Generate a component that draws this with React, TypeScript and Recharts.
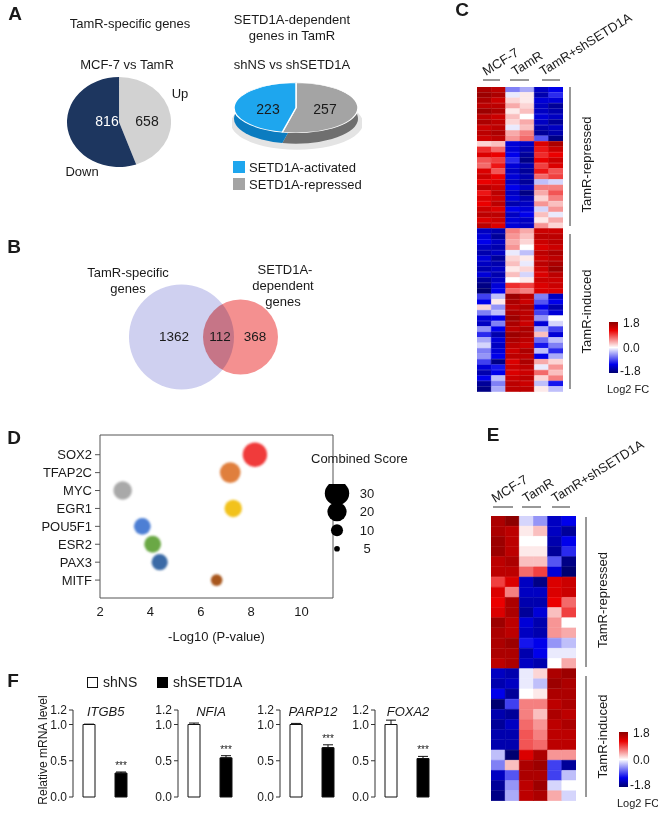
import React from 'react';
import {
  PieChart, Pie, Cell, ScatterChart, Scatter, XAxis, YAxis, ZAxis,
  ReferenceArea, BarChart, Bar, ErrorBar, LabelList,
} from 'recharts';

const FONT = '"Liberation Sans", Arial, sans-serif';
const INK = '#1a1a1a';

// ---- A: pies
const tamrLabels = ['Up', 'Down'];
const tamrCounts = [658, 816];
const tamrColors = ['#d2d2d2', '#1d365f'];

const setd1aLabels = ['SETD1A-repressed', 'SETD1A-activated'];
const setd1aCounts = [257, 223];
const setd1aTop = ['#a4a4a4', '#1ea6ee'];
const setd1aSide = ['#6f6f6f', '#0b7cc0'];

// ---- B: venn
const vennNames = ['TamR-specific genes', 'SETD1A-dependent genes'];
const vennOnly = [1362, 368];
const vennShared = 112;

// ---- D: enrichment bubbles
const tfNames = ['SOX2', 'TFAP2C', 'MYC', 'EGR1', 'POU5F1', 'ESR2', 'PAX3', 'MITF'];
const tfLogP = [8.15, 7.17, 2.9, 7.29, 3.68, 4.09, 4.37, 6.63];
const tfScore = [32, 24, 20, 18, 17, 17, 16, 10];
const tfColors = ['#f03a3a', '#e07f3e', '#a9a9a9', '#f2c21e', '#4d7fd4', '#6aa844', '#3b6aa6', '#a8561e'];
const scoreLegend = [30, 20, 10, 5];
const pTicks = [2, 4, 6, 8, 10];

// ---- F: qPCR
const genes = ['ITGB5', 'NFIA', 'PARP12', 'FOXA2'];
const shNSMean = [1.0, 1.0, 1.0, 1.0];
const shNSErr = [0.005, 0.02, 0.015, 0.06];
const shSETMean = [0.33, 0.54, 0.68, 0.53];
const shSETErr = [0.015, 0.03, 0.04, 0.03];
const mrnaTicks = [0, 0.5, 1.0, 1.2];

// ---- C / E heatmaps, columns: MCF-7 x2, TamR x2, TamR+shSETD1A x2 (log2 FC)
const cRepA = [
  [1.6, 1.5, -0.6, -0.4, -1.4, -1.2],
  [1.7, 1.6, -0.1, 0.1, -1.5, -1.0],
  [1.6, 1.4, 0.2, 0.1, -1.3, -1.3],
  [1.5, 1.5, 0.4, 0.2, -1.4, -1.6],
  [1.7, 1.6, 0.1, 0.3, -1.4, -1.5],
  [1.5, 1.4, 0.3, 0.0, -1.3, -1.4],
  [1.6, 1.5, 0.2, 0.4, -1.4, -1.6],
  [1.4, 1.5, -0.1, 0.3, -1.5, -1.4],
  [1.5, 1.6, 0.4, 0.6, -1.6, -1.5],
  [1.4, 1.5, 0.5, 0.7, -0.8, -1.7],
];
const cRepB = [
  [0.2, 0.3, -1.3, -1.4, 1.3, 1.6],
  [1.0, 0.7, -1.3, -1.5, 1.1, 1.4],
  [1.3, 1.2, -1.2, -1.6, 1.0, 1.2],
  [0.8, 0.9, -1.0, -1.7, 1.2, 1.4],
  [0.7, 1.1, -1.3, -1.5, 0.9, 1.3],
  [1.3, 0.8, -1.4, -1.6, 1.1, 0.8],
  [1.4, 1.2, -1.3, -1.5, 0.7, 0.9],
  [1.2, 1.3, -1.4, -1.6, -0.3, -0.2],
  [1.5, 1.4, -1.2, -1.4, 0.6, 0.6],
  [1.1, 1.5, -1.4, -1.7, 0.4, 0.8],
  [1.3, 1.4, -1.3, -1.5, 0.2, 0.6],
  [1.2, 1.5, -1.5, -1.4, 0.5, 0.3],
  [1.4, 1.3, -1.2, -1.3, -0.2, 0.5],
  [1.5, 1.5, -1.4, -1.2, 0.3, -0.1],
  [1.3, 1.4, -1.3, -1.4, 0.1, 0.4],
  [1.5, 1.3, -1.3, -1.4, 0.5, 0.2],
];
const cIndA = [
  [-1.4, -1.5, 0.6, 0.4, 1.4, 1.4],
  [-1.3, -1.6, 0.5, 0.3, 1.5, 1.5],
  [-1.2, -1.4, 0.4, 0.2, 1.4, 1.5],
  [-1.4, -1.5, 0.5, 0.0, 1.3, 1.4],
  [-1.5, -1.4, -0.1, -0.3, 1.5, 1.6],
  [-1.3, -1.6, 0.2, 0.1, 1.4, 1.5],
  [-1.4, -1.5, 0.3, -0.1, 1.5, 1.6],
  [-1.5, -1.4, 0.1, 0.2, 1.4, 1.7],
  [-1.3, -1.5, 0.3, -0.2, 1.3, 1.5],
  [-1.6, -1.4, 0.0, 0.1, 1.4, 1.4],
  [-1.7, -1.3, 1.0, 0.9, 1.3, 1.4],
  [-1.8, -1.2, 0.7, 0.6, 1.3, 1.3],
];
const cIndB = [
  [-0.9, -0.3, 1.7, 1.5, -0.6, -1.4],
  [-1.2, 0.1, 1.6, 1.4, -0.8, -1.2],
  [0.2, -0.5, 1.5, 1.6, -1.2, -1.5],
  [-0.6, -0.3, 1.6, 1.5, -0.9, -1.3],
  [-1.3, -1.2, 1.7, 1.5, -0.5, 0.0],
  [-1.4, -0.6, 1.6, 1.4, -1.3, -0.2],
  [-0.5, -1.2, 1.5, 1.6, -0.4, -0.9],
  [-1.0, -1.5, 1.7, 1.6, 0.3, -1.3],
  [-0.4, -1.3, 1.6, 1.5, -0.7, -0.3],
  [-0.2, -1.4, 1.5, 1.4, -1.1, -0.6],
  [-0.6, -1.3, 1.4, 1.6, -0.3, -1.0],
  [-0.5, -1.2, 1.5, 1.5, -1.2, -0.4],
  [-0.9, -1.7, 1.3, 1.6, 0.4, 0.2],
  [-1.3, -1.1, 1.4, 1.5, -0.1, 0.5],
  [-1.5, -1.2, 1.3, 1.4, 0.7, 0.3],
  [-1.2, -0.3, 1.4, 1.5, 0.2, 0.6],
  [-1.6, -0.6, 1.5, 1.4, -0.3, -1.1],
  [-1.7, -0.4, 1.5, 1.5, 0.1, -0.3],
];
const eRep = [
  [1.6, 1.8, -0.2, -0.5, -1.4, -1.2],
  [1.6, 1.5, 0.1, 0.3, -1.4, -1.6],
  [1.7, 1.5, 0.0, 0.0, -1.5, -1.2],
  [1.7, 1.5, 0.1, 0.1, -1.6, -1.0],
  [1.5, 1.6, 0.3, 0.3, -0.8, -1.7],
  [1.5, 1.5, 0.7, 0.9, -1.3, -1.8],
  [0.9, 1.3, -1.4, -1.7, 1.3, 1.4],
  [1.3, 0.6, -1.4, -1.4, 1.3, 1.4],
  [1.2, 1.6, -1.5, -1.5, 1.2, 0.7],
  [1.3, 1.6, -1.6, -1.3, 0.3, 0.9],
  [1.7, 1.5, -1.3, -1.5, 0.5, 0.0],
  [1.6, 1.5, -1.4, -1.5, 0.5, 0.4],
  [1.6, 1.7, -1.1, -1.2, -0.5, -0.3],
  [1.6, 1.6, -1.5, -1.2, -0.1, -0.1],
  [1.5, 1.6, -1.4, -1.5, 0.0, 0.4],
];
const eInd = [
  [-1.4, -1.5, -0.1, 0.2, 1.6, 1.7],
  [-1.5, -1.4, -0.1, -0.3, 1.7, 1.6],
  [-1.2, -1.6, 0.0, 0.1, 1.6, 1.6],
  [-1.8, -0.9, 0.6, 0.6, 1.5, 1.6],
  [-1.5, -1.6, 0.6, 0.3, 1.6, 1.5],
  [-1.6, -1.4, 0.7, 0.5, 1.5, 1.6],
  [-1.5, -1.5, 0.8, 0.6, 1.5, 1.5],
  [-1.5, -1.5, 0.8, 0.7, 1.5, 1.5],
  [-0.3, -1.8, 1.3, 1.6, 0.5, 0.5],
  [-0.6, 0.3, 1.6, 1.7, -0.9, -1.6],
  [-1.4, -0.8, 1.6, 1.6, -0.9, -0.3],
  [-1.6, -0.5, 1.5, 1.7, -0.2, 0.0],
  [-1.7, -0.4, 1.5, 1.6, 0.4, -0.2],
];
const heatGroups = ['MCF-7', 'TamR', 'TamR+shSETD1A'];

const heatStops = [
  { v: -1.8, c: [0, 0, 112] },
  { v: -1.2, c: [0, 0, 235] },
  { v: 0, c: [255, 255, 255] },
  { v: 1.2, c: [235, 0, 0] },
  { v: 1.8, c: [140, 0, 0] },
];

function heatColor(v: number) {
  const x = Math.max(-1.8, Math.min(1.8, v));
  for (let i = 0; i < heatStops.length - 1; i++) {
    const a = heatStops[i];
    const b = heatStops[i + 1];
    if (x <= b.v) {
      const t = (x - a.v) / (b.v - a.v);
      const c = a.c.map((ch, k) => Math.round(ch + (b.c[k] - ch) * t));
      return `rgb(${c.join(',')})`;
    }
  }
  return 'rgb(140,0,0)';
}

const tickStyle = { fontSize: 13, fill: INK, fontFamily: FONT };
const zero = { top: 0, right: 0, bottom: 0, left: 0 };

function PanelA() {
  const tamr = tamrLabels.map((name, i) => ({ name, value: tamrCounts[i] }));
  const setd = setd1aLabels.map((name, i) => ({ name, value: setd1aCounts[i] }));
  const total = [{ name: 'all', value: setd1aCounts[0] + setd1aCounts[1] }];
  const sy = 0.403;
  return (
    <>
      <div style={{ position: 'absolute', left: 67, top: 77, transform: 'scaleX(1.156)', transformOrigin: '0 0' }}>
        <PieChart width={90} height={90} margin={zero}>
          <Pie data={tamr} dataKey="value" cx={45} cy={45} outerRadius={45} startAngle={90} endAngle={-270}
            stroke="none" isAnimationActive={false}>
            {tamr.map((d, i) => <Cell key={d.name} fill={tamrColors[i]} />)}
          </Pie>
        </PieChart>
      </div>
      <div style={{ position: 'absolute', left: 232, top: 82.2, transform: `scaleY(${sy})`, transformOrigin: '0 0' }}>
        <PieChart width={130} height={175} margin={zero}>
          <Pie data={total} dataKey="value" cx={65} cy={102} outerRadius={66} stroke="none" fill="#e4e4e4"
            isAnimationActive={false} />
          <Pie data={setd} dataKey="value" cx={64} cy={91} outerRadius={62} startAngle={90} endAngle={-270}
            stroke="none" isAnimationActive={false}>
            {setd.map((d, i) => <Cell key={d.name} fill={setd1aSide[i]} />)}
          </Pie>
          <Pie data={setd} dataKey="value" cx={64} cy={64} outerRadius={62} startAngle={90} endAngle={-270}
            stroke="#fff" strokeWidth={1.5} isAnimationActive={false}>
            {setd.map((d, i) => <Cell key={d.name} fill={setd1aTop[i]} />)}
          </Pie>
        </PieChart>
      </div>
    </>
  );
}

function vennShape(props: any) {
  const r = props.width ? props.width / 2 : Math.sqrt((props.size || 64) / Math.PI);
  const first = props.payload.idx === 0;
  return (
    <circle cx={props.cx} cy={props.cy} r={r} fill={first ? '#cfd0f0' : '#f27878'}
      fillOpacity={first ? 1 : 0.82} style={first ? undefined : { mixBlendMode: 'multiply' }} />
  );
}

function PanelB() {
  const data = vennNames.map((name, i) => ({ name, idx: i, x: i, y: 0, z: vennOnly[i] + vennShared }));
  return (
    <div style={{ position: 'absolute', left: 100, top: 267 }}>
      <ScatterChart width={230} height={140} margin={zero}>
        <XAxis type="number" dataKey="x" domain={[-1.381, 2.517]} hide />
        <YAxis type="number" dataKey="y" domain={[-1, 1]} hide />
        <ZAxis type="number" dataKey="z" domain={[480, 1474]} range={[4418, 8659]} />
        <Scatter data={data} isAnimationActive={false} shape={vennShape} />
      </ScatterChart>
    </div>
  );
}

function bubbleShape(props: any) {
  const r = props.width ? props.width / 2 : Math.sqrt((props.size || 64) / Math.PI);
  return <circle cx={props.cx} cy={props.cy} r={r} fill={props.payload.color} filter="url(#soft)" />;
}

function dotShape(props: any) {
  const r = props.width ? props.width / 2 : Math.sqrt((props.size || 64) / Math.PI);
  return <circle cx={props.cx} cy={props.cy} r={r} fill="#000" />;
}

function PanelD() {
  const data = tfNames.map((name, i) => ({
    name, x: tfLogP[i], y: tfNames.length - i, z: tfScore[i], color: tfColors[i],
  }));
  const legend = scoreLegend.map((s, i) => ({ x: 0, y: i, z: s }));
  const yTicks = tfNames.map((_, i) => i + 1);
  return (
    <>
      <div style={{ position: 'absolute', left: 30, top: 425 }}>
        <ScatterChart width={310} height={224} margin={{ top: 10, right: 7, bottom: 0, left: 0 }}>
          <XAxis type="number" dataKey="x" domain={[2, 11.25]} ticks={pTicks} allowDataOverflow height={51}
            tickLine={false} axisLine={false} tickSize={6} tickMargin={3} tick={tickStyle}
            label={{ value: '-Log10 (P-value)', position: 'insideBottom', offset: 8, fontSize: 13, fill: INK }} />
          <YAxis type="number" dataKey="y" domain={[0, 9.1]} ticks={yTicks} width={70} interval={0}
            tickFormatter={(v: number) => tfNames[tfNames.length - v]} axisLine={false}
            tickLine={{ stroke: '#555' }} tickSize={5} tickMargin={3} tick={tickStyle} />
          <ZAxis type="number" dataKey="z" domain={[4, 30]} range={[8, 467]} />
          <ReferenceArea x1={2} x2={11.25} y1={0} y2={9.1} fill="none" stroke="#555" strokeWidth={1}
            ifOverflow="visible" />
          <Scatter data={data} isAnimationActive={false} shape={bubbleShape} />
        </ScatterChart>
      </div>
      <div style={{ position: 'absolute', left: 317, top: 484 }}>
        <ScatterChart width={62} height={74} margin={zero}>
          <XAxis type="number" dataKey="x" domain={[-1, 1]} hide />
          <YAxis type="number" dataKey="y" domain={[-0.5, 3.5]} reversed orientation="right" width={22}
            ticks={[0, 1, 2, 3]} interval={0} tickFormatter={(v: number) => String(scoreLegend[v])}
            axisLine={false} tickLine={false} tickSize={0} tickMargin={10}
            tick={{ ...tickStyle, textAnchor: 'middle' }} />
          <ZAxis type="number" dataKey="z" domain={[4, 30]} range={[8, 467]} />
          <Scatter data={legend} isAnimationActive={false} shape={dotShape} />
        </ScatterChart>
      </div>
    </>
  );
}

const axisXs = [72.7, 178, 280, 375];

function GeneBars({ i }: { i: number }) {
  const data = [
    { group: 'shNS', value: shNSMean[i], err: [0, shNSErr[i]], sig: '' },
    { group: 'shSETD1A', value: shSETMean[i], err: [0, shSETErr[i]], sig: '***' },
  ];
  return (
    <div style={{ position: 'absolute', left: axisXs[i] - 35, top: 700 }}>
      <BarChart width={101} height={108} data={data} margin={{ top: 10, right: 2, bottom: 11, left: 0 }} barSize={12}>
        <XAxis dataKey="group" hide />
        <YAxis width={35} domain={[0, 1.2]} ticks={mrnaTicks} interval={0}
          tickFormatter={(v: number) => v.toFixed(1)} tickSize={4} tickMargin={2}
          axisLine={{ stroke: '#333' }} tickLine={{ stroke: '#333' }} tick={{ ...tickStyle, fontSize: 12 }} />
        <Bar dataKey="value" isAnimationActive={false} stroke="#111" strokeWidth={1}>
          {data.map((d) => <Cell key={d.group} fill={d.group === 'shNS' ? '#fff' : '#000'} />)}
          <ErrorBar dataKey="err" width={5} stroke="#111" strokeWidth={1} direction="y" />
          <LabelList dataKey="sig" position="top" offset={3 + shSETErr[i] * 72} fontSize={10} fill={INK} />
        </Bar>
      </BarChart>
    </div>
  );
}

function Heatmap({ rows, left, top, width, height }: { rows: number[][]; left: number; top: number; width: number; height: number }) {
  const data = rows.map((v, i) => ({ id: i, v, c0: 1, c1: 1, c2: 1, c3: 1, c4: 1, c5: 1 }));
  return (
    <div style={{ position: 'absolute', left, top }}>
      <BarChart width={width} height={height} data={data} layout="vertical" margin={zero}
        barCategoryGap={0} barGap={0}>
        <XAxis type="number" domain={[0, 6]} hide />
        <YAxis type="category" dataKey="id" hide />
        {[0, 1, 2, 3, 4, 5].map((j) => (
          <Bar key={j} dataKey={`c${j}`} stackId="h" isAnimationActive={false}>
            {data.map((d) => {
              const col = heatColor(d.v[j]);
              return <Cell key={d.id} fill={col} stroke={col} strokeWidth={0.6} />;
            })}
          </Bar>
        ))}
      </BarChart>
    </div>
  );
}

function T({ x, y, children, size = 13, anchor = 'start', weight, italic, fill = INK, rotate, base = 'central' }: any) {
  return (
    <text x={x} y={y} fontSize={size} textAnchor={anchor} dominantBaseline={base} fontWeight={weight}
      fontStyle={italic ? 'italic' : undefined} fill={fill}
      transform={rotate !== undefined ? `rotate(${rotate} ${x} ${y})` : undefined}>
      {children}
    </text>
  );
}

function HeatDecor({ labelStarts, labelY, lines, lineY, rightX, repSpan, indSpan, bar }: any) {
  return (
    <g>
      {heatGroups.map((g, i) => (
        <T key={g} x={labelStarts[i]} y={labelY} base="alphabetic" rotate={-32}>{g}</T>
      ))}
      {lines.map((l: number[], i: number) => (
        <line key={i} x1={l[0]} x2={l[1]} y1={lineY} y2={lineY} stroke="#333" strokeWidth={1} />
      ))}
      <line x1={rightX} x2={rightX} y1={repSpan[0]} y2={repSpan[1]} stroke="#333" strokeWidth={1} />
      <line x1={rightX} x2={rightX} y1={indSpan[0]} y2={indSpan[1]} stroke="#333" strokeWidth={1} />
      <T x={rightX + 16} y={(repSpan[0] + repSpan[1]) / 2 + 8} anchor="middle" rotate={-90}>TamR-repressed</T>
      <T x={rightX + 16} y={(indSpan[0] + indSpan[1]) / 2} anchor="middle" rotate={-90}>TamR-induced</T>
      <rect x={bar.x} y={bar.y} width={9} height={bar.h} fill="url(#heatGrad)" />
      <T x={bar.x + 14} y={bar.y + 1} size={12}>1.8</T>
      <T x={bar.x + 14} y={bar.y + bar.h / 2} size={12}>0.0</T>
      <T x={bar.x + 11} y={bar.y + bar.h - 2} size={12}>-1.8</T>
      <T x={bar.x - 2} y={bar.y + bar.h + 16} size={11}>Log2 FC</T>
    </g>
  );
}

function Overlay() {
  return (
    <svg width={658} height={815} style={{ position: 'absolute', left: 0, top: 0, pointerEvents: 'none', fontFamily: FONT }}>
      <defs>
        <linearGradient id="heatGrad" x1="0" y1="0" x2="0" y2="1">
          {heatStops.slice().reverse().map((s) => (
            <stop key={s.v} offset={(1.8 - s.v) / 3.6} stopColor={`rgb(${s.c.join(',')})`} />
          ))}
        </linearGradient>
      </defs>
      {/* panel letters */}
      <T x={15} y={13} size={19} weight="bold" anchor="middle">A</T>
      <T x={14} y={246} size={19} weight="bold" anchor="middle">B</T>
      <T x={462} y={9} size={19} weight="bold" anchor="middle">C</T>
      <T x={14} y={437} size={19} weight="bold" anchor="middle">D</T>
      <T x={493} y={434} size={19} weight="bold" anchor="middle">E</T>
      <T x={13} y={680} size={19} weight="bold" anchor="middle">F</T>

      {/* A */}
      <T x={130} y={23} anchor="middle">TamR-specific genes</T>
      <T x={127} y={64} anchor="middle">MCF-7 vs TamR</T>
      <T x={292} y={19} anchor="middle">SETD1A-dependent</T>
      <T x={292} y={35} anchor="middle">genes in TamR</T>
      <T x={292} y={64} anchor="middle">shNS vs shSETD1A</T>
      <T x={180} y={93} anchor="middle">{tamrLabels[0]}</T>
      <T x={82} y={171} anchor="middle">{tamrLabels[1]}</T>
      <T x={107} y={121} size={14} anchor="middle" fill="#fff">{tamrCounts[1]}</T>
      <T x={147} y={121} size={14} anchor="middle">{tamrCounts[0]}</T>
      <T x={268} y={109} size={14} anchor="middle">{setd1aCounts[1]}</T>
      <T x={325} y={109} size={14} anchor="middle">{setd1aCounts[0]}</T>
      <rect x={233} y={161} width={12} height={12} fill={setd1aTop[1]} />
      <T x={249} y={167}>{setd1aLabels[1]}</T>
      <rect x={233} y={178} width={12} height={12} fill={setd1aTop[0]} />
      <T x={249} y={184}>{setd1aLabels[0]}</T>

      {/* B */}
      <T x={128} y={272} anchor="middle">TamR-specific</T>
      <T x={128} y={288} anchor="middle">genes</T>
      <T x={285} y={269} anchor="middle">SETD1A-</T>
      <T x={283} y={285} anchor="middle">dependent</T>
      <T x={283} y={301} anchor="middle">genes</T>
      <T x={174} y={336} size={13.5} anchor="middle">{vennOnly[0]}</T>
      <T x={220} y={336} size={13.5} anchor="middle">{vennShared}</T>
      <T x={255} y={336} size={13.5} anchor="middle">{vennOnly[1]}</T>

      {/* D */}
      <T x={311} y={458}>Combined Score</T>

      {/* F */}
      <rect x={87.5} y={677.5} width={10} height={10} fill="#fff" stroke="#111" />
      <T x={103} y={682} size={14}>shNS</T>
      <rect x={157} y={677} width={11} height={11} fill="#000" />
      <T x={173} y={682} size={14}>shSETD1A</T>
      <T x={43} y={750} size={12} anchor="middle" rotate={-90}>Relative mRNA level</T>
      {genes.map((g, i) => (
        <T key={g} x={axisXs[i] + 33} y={711} italic anchor="middle">{g}</T>
      ))}

      {/* C */}
      <HeatDecor labelStarts={[486, 515, 543]} labelY={76} lines={[[483, 500], [510, 529], [542, 560]]} lineY={80}
        rightX={570} repSpan={[87, 226]} indSpan={[234, 389]} bar={{ x: 609, y: 322, h: 51 }} />
      {/* E */}
      <HeatDecor labelStarts={[495, 526, 555]} labelY={503} lines={[[493, 513], [522, 541], [552, 570]]} lineY={507}
        rightX={586} repSpan={[517, 667]} indSpan={[676, 797]} bar={{ x: 619, y: 732, h: 55 }} />
    </svg>
  );
}

export default function App() {
  return (
    <div style={{ position: 'absolute', left: 0, top: 0, width: 658, height: 815, background: '#fff', fontFamily: FONT, overflow: 'hidden' }}>
      <svg width={0} height={0} style={{ position: 'absolute' }}>
        <defs>
          <filter id="soft" x="-40%" y="-40%" width="180%" height="180%">
            <feGaussianBlur stdDeviation="1" />
          </filter>
        </defs>
      </svg>
      <PanelA />
      <PanelB />
      <PanelD />
      {genes.map((g, i) => <GeneBars key={g} i={i} />)}
      <Heatmap rows={[...cRepA, ...cRepB, ...cIndA, ...cIndB]} left={477} top={87} width={86} height={305} />
      <Heatmap rows={[...eRep, ...eInd]} left={491} top={516} width={85} height={285} />
      <Overlay />
    </div>
  );
}
